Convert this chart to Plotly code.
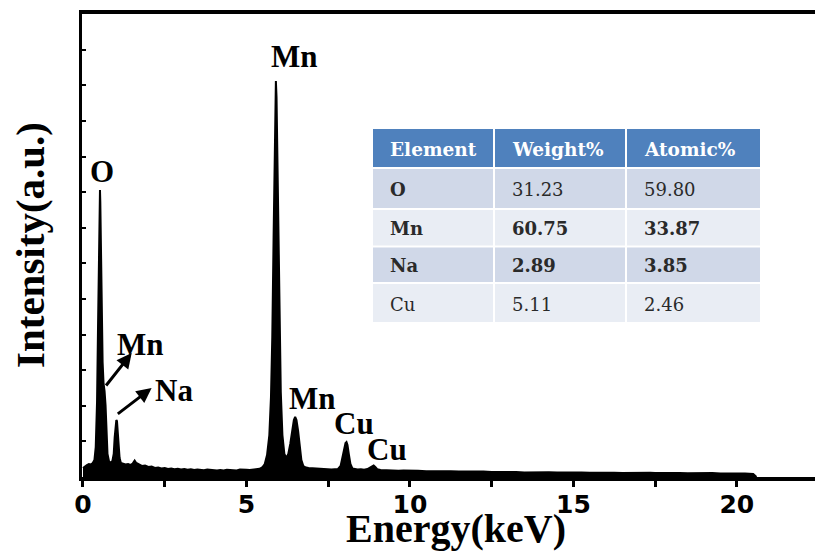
import plotly.graph_objects as go

# ---------------- data ----------------
energy_kev = [
    0.00, 0.06, 0.12, 0.18, 0.24, 0.30, 0.35, 0.39, 0.43, 0.46, 0.48, 0.50, 0.51, 0.52, 0.53,
    0.55, 0.57, 0.60, 0.63, 0.66, 0.69, 0.72, 0.75, 0.80, 0.85, 0.90, 0.94, 0.97, 1.00, 1.02,
    1.04, 1.06, 1.09, 1.12, 1.16, 1.22, 1.30, 1.38, 1.45, 1.52, 1.58, 1.63, 1.70, 1.80, 1.90,
    2.00, 2.10, 2.20, 2.30, 2.40, 2.50, 2.60, 2.70, 2.80, 2.90, 3.00, 3.10, 3.20, 3.30, 3.40,
    3.50, 3.60, 3.70, 3.80, 3.90, 4.00, 4.10, 4.20, 4.30, 4.40, 4.50, 4.60, 4.70, 4.80, 4.90,
    5.00, 5.10, 5.20, 5.30, 5.40, 5.48, 5.56, 5.63, 5.70, 5.75, 5.79, 5.83, 5.86, 5.88, 5.90,
    5.92, 5.94, 5.97, 6.01, 6.05, 6.10, 6.16, 6.22, 6.28, 6.34, 6.40, 6.45, 6.49, 6.53, 6.58,
    6.63, 6.68, 6.74, 6.82, 6.90, 7.00, 7.10, 7.20, 7.30, 7.40, 7.50, 7.60, 7.70, 7.80, 7.88,
    7.94, 7.99, 8.03, 8.06, 8.09, 8.13, 8.18, 8.24, 8.32, 8.40, 8.50, 8.60, 8.70, 8.78, 8.84,
    8.89, 8.94, 9.00, 9.10, 9.20, 9.35, 9.50, 9.65, 9.80, 10.00, 10.25, 10.50, 10.75, 11.00,
    11.25, 11.50, 11.75, 12.00, 12.25, 12.50, 12.75, 13.00, 13.25, 13.50, 13.75, 14.00, 14.25,
    14.50, 14.75, 15.00, 15.25, 15.50, 15.75, 16.00, 16.25, 16.50, 16.75, 17.00, 17.20, 17.35,
    17.50, 17.75, 18.00, 18.25, 18.50, 18.75, 19.00, 19.25, 19.50, 19.75, 20.00, 20.25, 20.50,
    20.60, 20.62,
]
intensity_counts = [
    90, 110, 120, 130, 125, 140, 170, 300, 750, 1500, 2100, 2600, 2800, 2870, 2750,
    2300, 1700, 1150, 930, 860, 720, 450, 230, 150, 145, 160, 230, 400, 540, 570,
    560, 480, 320, 190, 140, 135, 125, 130, 120, 135, 165, 140, 125, 110, 115,
    100, 105, 90, 95, 85, 90, 80, 85, 78, 82, 75, 80, 72, 78, 70,
    75, 72, 68, 74, 70, 72, 66, 70, 65, 72, 68, 70, 66, 74, 70,
    72, 70, 76, 75, 82, 95, 130, 220, 420, 800, 1400, 2400, 3300, 3750, 3960,
    3800, 3350, 2500, 1500, 850, 420, 230, 190, 230, 330, 470, 570, 600, 570, 460,
    300, 170, 110, 95, 90, 88, 85, 80, 84, 78, 80, 75, 78, 80, 110,
    200, 300, 340, 350, 320, 230, 130, 85, 80, 75, 78, 72, 80, 95, 110,
    115, 100, 78, 70, 68, 65, 66, 62, 64, 60, 62, 58, 60, 56,
    58, 54, 55, 52, 54, 50, 52, 48, 50, 46, 48, 45, 47,
    44, 46, 43, 45, 42, 44, 41, 43, 40, 42, 44, 47,
    42, 40, 42, 38, 40, 38, 40, 37, 39, 36, 38, 36, 35,
    30, 0,
]

peak_labels = ["Mn", "O", "Mn", "Na", "Mn", "Cu", "Cu"]
peak_label_x = [6.48, 0.58, 1.77, 2.78, 7.02, 8.30, 9.30]
peak_label_y = [4210, 3060, 1330, 870, 790, 540, 275]

# arrows: (tip_x, tip_y, tail_x, tail_y)
arrow_tip_x = [1.49, 2.10]
arrow_tip_y = [1240, 890]
arrow_tail_x = [0.67, 1.02]
arrow_tail_y = [900, 620]

x_tick_vals = [0, 2.5, 5, 7.5, 10, 12.5, 15, 17.5, 20]
x_tick_text = ["0", "", "5", "", "10", "", "15", "", "20"]

table_header = ["Element", "Weight%", "Atomic%"]
table_elements = ["O", "Mn", "Na", "Cu"]
table_weight = ["31.23", "60.75", "2.89", "5.11"]
table_atomic = ["59.80", "33.87", "3.85", "2.46"]
table_element_bold = [True, True, True, False]
table_bold_rows = [False, True, True, False]

SERIF = "Liberation Serif, Times New Roman, Times, serif"

# ---------------- layout geometry (pixels) ----------------
W, H = 815, 552
ML, MT, MB = 82, 14, 75
PLOT_W = W - ML
PLOT_H = H - MT - MB
AXIS_Y = H - MB


def px_x(p):
    return (p - ML) / PLOT_W


def px_y(p):
    return (AXIS_Y - p) / PLOT_H


# table grid in pixels: column [left, right], row [top, bottom]
tbl_cols = [(373, 493), (495, 625), (627, 760)]
tbl_rows = [(129, 167), (169, 208), (210, 245.5), (247.5, 282), (284, 322)]
tbl_text_pad = 15
header_color = "#4F81BD"
row_colors = ["#D0D8E8", "#E9EDF4", "#D0D8E8", "#E9EDF4"]

# ---------------- figure ----------------
fig = go.Figure()

fig.add_trace(go.Scatter(
    x=energy_kev, y=intensity_counts, mode="lines",
    line=dict(color="black", width=2),
    fill="tozeroy", fillcolor="black",
    hoverinfo="skip", showlegend=False,
))

shapes = []
annotations = []

table_body = [table_elements, table_weight, table_atomic]
for r, (top, bot) in enumerate(tbl_rows):
    fill = header_color if r == 0 else row_colors[r - 1]
    for c, (left, right) in enumerate(tbl_cols):
        shapes.append(dict(
            type="rect", xref="paper", yref="paper",
            x0=px_x(left), x1=px_x(right), y0=px_y(bot), y1=px_y(top),
            fillcolor=fill, line=dict(width=0), layer="above",
        ))
        if r == 0:
            txt = f"<b>{table_header[c]}</b>"
            col = "white"
            size = 18.5
        else:
            v = table_body[c][r - 1]
            bold = table_element_bold[r - 1] if c == 0 else table_bold_rows[r - 1]
            txt = f"<b>{v}</b>" if bold else v
            col = "#2a2a2a"
            size = 18
        annotations.append(dict(
            x=px_x(left + tbl_text_pad), y=px_y((top + bot) / 2 + 1),
            xref="paper", yref="paper", text=txt, showarrow=False,
            xanchor="left", yanchor="middle",
            font=dict(family="DejaVu Serif", size=size, color=col),
        ))

for t, x, y in zip(peak_labels, peak_label_x, peak_label_y):
    annotations.append(dict(
        x=x, y=y, xref="x", yref="y", text=f"<b>{t}</b>", showarrow=False,
        font=dict(family=SERIF, size=31, color="black"),
        xanchor="center", yanchor="middle",
    ))
for tx, ty, ax, ay in zip(arrow_tip_x, arrow_tip_y, arrow_tail_x, arrow_tail_y):
    annotations.append(dict(
        x=tx, y=ty, ax=ax, ay=ay, xref="x", yref="y", axref="x", ayref="y",
        text="", showarrow=True, arrowhead=2, arrowsize=1, arrowwidth=3,
        arrowcolor="black",
    ))
annotations.append(dict(
    x=px_x(456), y=px_y(528), xref="paper", yref="paper", text="<b>Energy(keV)</b>",
    showarrow=False, xanchor="center", yanchor="middle",
    font=dict(family=SERIF, size=40, color="black"),
))
annotations.append(dict(
    x=px_x(30), y=px_y(245), xref="paper", yref="paper", text="<b>Intensity(a.u.)</b>",
    showarrow=False, xanchor="center", yanchor="middle", textangle=-90,
    font=dict(family=SERIF, size=41, color="black"),
))

fig.update_layout(
    width=W, height=H,
    margin=dict(l=ML, r=0, t=MT, b=MB),
    paper_bgcolor="white", plot_bgcolor="white",
    showlegend=False,
    shapes=shapes,
    annotations=annotations,
    xaxis=dict(
        range=[-0.03, 22.39], showgrid=False, zeroline=False,
        showline=True, linecolor="black", linewidth=4, mirror=True,
        ticks="outside", ticklen=6, tickwidth=3, tickcolor="black",
        tickvals=x_tick_vals, ticktext=x_tick_text,
        ticklabelstandoff=-4,
        tickfont=dict(family="DejaVu Sans", size=25, color="black", weight="bold"),
    ),
    yaxis=dict(
        range=[0, 4630], showgrid=False, zeroline=False,
        showline=True, linecolor="black", linewidth=3, mirror=False,
        ticks="inside", ticklen=4, tickwidth=2, tickcolor="black",
        tick0=0, dtick=356, showticklabels=False,
    ),
)

fig.write_html("out.html")
